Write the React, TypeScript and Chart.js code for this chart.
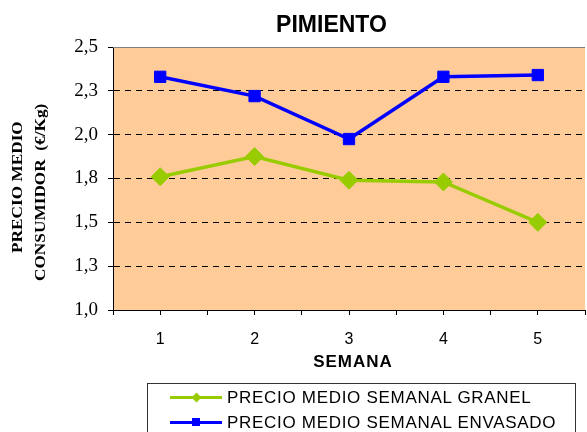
import React, { useEffect, useRef } from "react";
import { Chart, registerables } from "chart.js";

Chart.register(...registerables);

const categories = ["1", "2", "3", "4", "5"];
const granel = [1.76, 1.875, 1.74, 1.73, 1.5];
const envasado = [2.33, 2.22, 1.975, 2.33, 2.34];
const yTickLabels = ["1,0", "1,3", "1,5", "1,8", "2,0", "2,3", "2,5"];
const seriesLabels = ["PRECIO MEDIO SEMANAL GRANEL", "PRECIO MEDIO SEMANAL ENVASADO"];
const seriesColors = ["#99CC00", "#0000FF"];
const title = "PIMIENTO";
const xTitle = "SEMANA";
const yTitleLines = ["PRECIO MEDIO", "CONSUMIDOR  (€/Kg)"];

const SANS = "'Liberation Sans', Arial, sans-serif";
const SERIF = "'Liberation Serif', 'Times New Roman', serif";

const plotBg = {
  id: "plotBg",
  beforeDraw(chart: any) {
    const { ctx, chartArea } = chart;
    ctx.save();
    ctx.fillStyle = "#FFCC99";
    ctx.fillRect(chartArea.left, chartArea.top, chartArea.right - chartArea.left, chartArea.bottom - chartArea.top);
    ctx.restore();
  },
  beforeDatasetsDraw(chart: any) {
    const { ctx, chartArea } = chart;
    ctx.save();
    ctx.strokeStyle = "#808080";
    ctx.lineWidth = 1;
    ctx.beginPath();
    ctx.moveTo(chartArea.left, chartArea.top + 0.5);
    ctx.lineTo(chartArea.right, chartArea.top + 0.5);
    ctx.stroke();
    ctx.restore();
  },
};

export default function App() {
  const ref = useRef<HTMLCanvasElement>(null);
  useEffect(() => {
    const canvas = ref.current!;
    const chart = new Chart(canvas, {
      type: "line",
      data: {
        datasets: [
          {
            label: seriesLabels[0],
            data: granel.map((v, i) => ({ x: i + 1, y: v })),
            borderColor: seriesColors[0],
            backgroundColor: seriesColors[0],
            borderWidth: 3.5,
            pointStyle: "rectRot",
            pointRadius: 9,
            pointBorderWidth: 1,
            tension: 0,
          },
          {
            label: seriesLabels[1],
            data: envasado.map((v, i) => ({ x: i + 1, y: v })),
            borderColor: seriesColors[1],
            backgroundColor: seriesColors[1],
            borderWidth: 3.5,
            pointStyle: "rect",
            pointRadius: 8,
            pointBorderWidth: 1,
            tension: 0,
          },
        ],
      },
      options: {
        animation: false,
        responsive: false,
        devicePixelRatio: 1,
        layout: { autoPadding: false, padding: { top: 47, right: 10, bottom: 0, left: 0 } },
        plugins: {
          legend: { display: false },
          title: { display: false },
          tooltip: { enabled: false },
        },
        scales: {
          x: {
            type: "linear",
            min: 0.5,
            max: 5.5,
            afterFit: (s: any) => {
              s.height = 122;
            },
            ticks: {
              stepSize: 0.5,
              autoSkip: false,
              maxRotation: 0,
              padding: 15,
              color: "#000",
              font: { family: SANS, size: 16 },
              callback: (v: any) => (Number.isInteger(v) ? categories[v - 1] : ""),
            },
            grid: {
              drawOnChartArea: false,
              drawTicks: true,
              tickLength: 5,
              tickColor: "#000",
            },
            border: { color: "#000", width: 1 },
          },
          y: {
            min: 1,
            max: 2.5,
            afterFit: (s: any) => {
              s.width = 113;
            },
            ticks: {
              stepSize: 0.25,
              padding: 10,
              color: "#000",
              font: { family: SERIF, size: 19 },
              callback: (_v: any, i: number) => yTickLabels[i],
            },
            grid: {
              color: (c: any) =>
                c.tick && (c.tick.value === 2.5 || c.tick.value === 1) ? "rgba(0,0,0,0)" : "#000",
              lineWidth: 1,
              tickLength: 5,
              tickColor: "#000",
            },
            border: { color: "#000", width: 1, dash: [6, 5] },
          },
        },
      },
      plugins: [plotBg],
    });
    return () => chart.destroy();
  }, []);

  return (
    <div style={{ position: "absolute", left: 0, top: 0, width: 587, height: 432, overflow: "hidden", background: "#fff" }}>
      <canvas ref={ref} width={600} height={432} style={{ position: "absolute", left: 0, top: 0 }} />
      <div
        style={{
          position: "absolute",
          left: 231.5,
          width: 200,
          top: 13,
          textAlign: "center",
          fontFamily: SANS,
          fontWeight: "bold",
          fontSize: 23,
          lineHeight: 1,
          whiteSpace: "nowrap",
        }}
      >
        {title}
      </div>
      <div
        style={{
          position: "absolute",
          left: 253,
          width: 200,
          top: 352.8,
          textAlign: "center",
          fontFamily: SANS,
          fontWeight: "bold",
          fontSize: 17,
          letterSpacing: 1,
          lineHeight: 1,
          whiteSpace: "nowrap",
        }}
      >
        {xTitle}
      </div>
      {yTitleLines.map((t, i) => (
        <div
          key={i}
          style={{
            position: "absolute",
            left: i === 0 ? 9.9 : 33.4,
            top: i === 0 ? 253 : 281,
            transformOrigin: "0 0",
            transform: "rotate(-90deg) scaleX(1.15)",
            fontFamily: SERIF,
            fontWeight: "bold",
            fontSize: 15,
            lineHeight: "15px",
            whiteSpace: "pre",
          }}
        >
          {t}
        </div>
      ))}
      <div
        style={{
          position: "absolute",
          left: 147,
          top: 383,
          width: 429,
          height: 70,
          border: "1px solid #333",
          boxSizing: "border-box",
        }}
      />
      {seriesLabels.map((t, i) => {
        const cy = i === 0 ? 397 : 422;
        return (
          <React.Fragment key={i}>
            <div
              style={{
                position: "absolute",
                left: 170,
                top: cy - 1.5,
                width: 52,
                height: 3,
                background: seriesColors[i],
              }}
            />
            <div
              style={{
                position: "absolute",
                left: i === 0 ? 196 - 3.5 : 196 - 4,
                top: i === 0 ? cy - 3.5 : cy - 4,
                width: i === 0 ? 7 : 8,
                height: i === 0 ? 7 : 8,
                background: seriesColors[i],
                transform: i === 0 ? "rotate(45deg)" : "none",
              }}
            />
            <div
              style={{
                position: "absolute",
                left: 227,
                top: (i === 0 ? 391 : 416) - 0.13 * 17,
                fontFamily: SANS,
                fontSize: 17,
                letterSpacing: 0.7,
                lineHeight: 1,
                whiteSpace: "nowrap",
              }}
            >
              {t}
            </div>
          </React.Fragment>
        );
      })}
    </div>
  );
}
